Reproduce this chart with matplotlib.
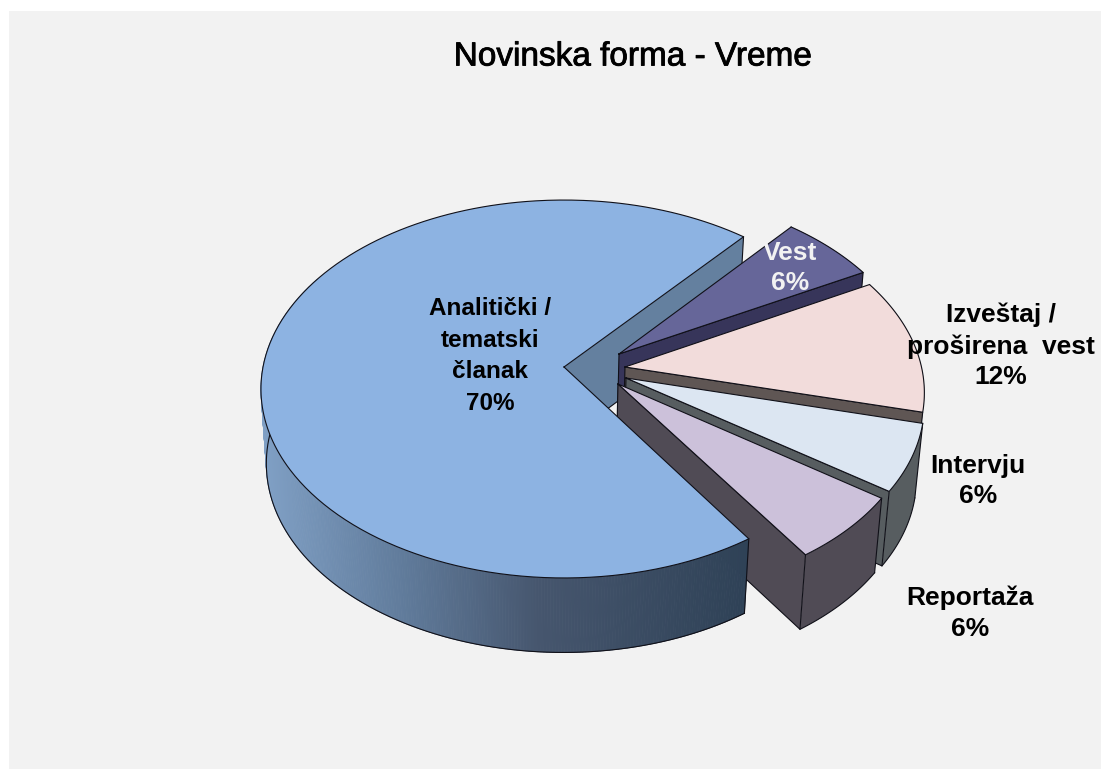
import numpy as np
import matplotlib
matplotlib.use('Agg')
import matplotlib.pyplot as plt
from matplotlib import patheffects

# Chart data (share of each form, rounded labels come from the chart itself)
categories = ['Analitički /\ntematski\nčlanak', 'Vest', 'Izveštaj /\nproširena  vest', 'Intervju', 'Reportaža']
values = [70.6, 5.9, 11.7, 5.9, 5.9]
percent_labels = ['70%', '6%', '12%', '6%', '6%']
title = 'Novinska forma - Vreme'

# Styling per slice
top_colors = ['#8DB3E2', '#666699', '#F2DCDB', '#DCE6F2', '#CCC1DA']
cut_colors = ['#64809F', '#37355A', '#5F5654', '#575D60', '#504B55']
wall_colors = [None, '#37355A', '#5F5654', '#575D60', '#504B55']
text_colors = ['black', '#F2F2F2', 'black', 'black', 'black']
apexes = [(564, 367), (619, 354), (625, 367), (626, 378), (618, 384)]
radii = [1.0, 0.99, 0.985, 0.975, 0.975]
label_xy = [(490, 356), (790, 268), (1001, 346), (978, 481), (970, 613)]
label_sizes = [17.5, 19, 19, 19, 19]
label_spacing = [1.48, 1.35, 1.35, 1.35, 1.35]

# Projection of the tilted disc onto the page, in pixels
K = 0.1164
SX, SY = 301.0, 186.4
OX, OY = 563.5, 367.0
DEPTH = 74.5
VX, SHRINK = 530.0, 0.98
START = 49.5
WALL_FROM = 150.0


def to_page(x, y):
    w = 1 + K * y
    return OX + SX * x / w, OY - SY * y / w


def from_page(px, py):
    u = (OY - py) / SY
    y = u / (1 - K * u)
    return (px - OX) / SX * (1 + K * y), y


def lower(px, py):
    return VX + SHRINK * (px - VX), py + DEPTH


def arc(apex, radius, a0, a1, n=120):
    cx, cy = from_page(*apex)
    t = np.radians(np.linspace(a0, a1, n))
    return to_page(cx + radius * np.cos(t), cy + radius * np.sin(t))


def wall_shade(x):
    stops = [262, 400, 540, 745]
    rgb = np.array([[128, 160, 197], [97, 124, 156], [70, 86, 110], [47, 66, 87]])
    return [np.interp(x, stops, rgb[:, i]) / 255 for i in range(3)]


fig = plt.figure(figsize=(11.09, 7.69), dpi=100, facecolor='white')
ax = fig.add_axes([0, 0, 1, 1])
ax.set_xlim(0, 1109)
ax.set_ylim(769, 0)
ax.axis('off')
ax.fill([9, 1101, 1101, 9], [11, 11, 769, 769], color='#F2F2F2', lw=0, zorder=0)

order = [1]


def shape(xs, ys, color):
    # each face goes on top of the ones drawn before it
    order[0] += 1
    ax.fill(xs, ys, color=color, lw=0, zorder=order[0])


def line(xs, ys):
    order[0] += 1
    ax.plot(xs, ys, color='#101018', lw=0.8, solid_joinstyle='round', zorder=order[0])


# Angles of each slice, clockwise from the start for the small ones
sweeps = np.array(values) / sum(values) * 360
edges = [START]
for sweep in sweeps[1:]:
    edges.append(edges[-1] - sweep)

# Large slice, cut face only: the small slices sit in front of it
apex = apexes[0]
xs, ys = arc(apex, radii[0], START, START + sweeps[0], 400)
bx0, by0 = lower(*apex)
bx1, by1 = lower(xs[0], ys[0])
shape([apex[0], xs[0], bx1, bx0], [apex[1], ys[0], by1, by0], cut_colors[0])
line([bx0, bx1, xs[0]], [by0, by1, ys[0]])

# Small slices, back to front
for i in range(1, len(values)):
    p = apexes[i]
    sx, sy = arc(p, radii[i], edges[i - 1], edges[i])
    lx, ly = lower(sx, sy)
    bx, by = lower(*p)
    shape(np.r_[sx, lx[::-1]], np.r_[sy, ly[::-1]], wall_colors[i])
    line(lx, ly)
    line([sx[0], lx[0]], [sy[0], ly[0]])
    shape([p[0], sx[-1], lx[-1], bx], [p[1], sy[-1], ly[-1], by], cut_colors[i])
    line([p[0], sx[-1], lx[-1], bx, p[0]], [p[1], sy[-1], ly[-1], by, p[1]])
    shape(np.r_[p[0], sx], np.r_[p[1], sy], top_colors[i])
    line(np.r_[p[0], sx, p[0]], np.r_[p[1], sy, p[1]])

# Large slice wall and top go last, they hide the cut of the front slice
wx, wy = arc(apex, radii[0], WALL_FROM, START + sweeps[0], 300)
lx, ly = lower(wx, wy)
for i in range(len(wx) - 1):
    order[0] += 1
    ax.fill([wx[i], wx[i + 1], lx[i + 1], lx[i]], [wy[i], wy[i + 1], ly[i + 1], ly[i]],
            color=wall_shade((wx[i] + wx[i + 1]) / 2), lw=0.6, zorder=order[0])
line(lx, ly)
line([wx[-1], lx[-1]], [wy[-1], ly[-1]])
shape(np.r_[apex[0], xs], np.r_[apex[1], ys], top_colors[0])
line(np.r_[apex[0], xs, apex[0]], np.r_[apex[1], ys, apex[1]])

# Labels
order[0] += 1
for i, name in enumerate(categories):
    ax.text(label_xy[i][0], label_xy[i][1], name + '\n' + percent_labels[i], ha='center', va='center',
            family='Liberation Sans', fontsize=label_sizes[i], fontweight='bold',
            color=text_colors[i], linespacing=label_spacing[i], zorder=order[0])

t = ax.text(633, 57, title, ha='center', va='center', family='Liberation Sans',
            fontsize=24, color='black', zorder=order[0])
t.set_path_effects([patheffects.withStroke(linewidth=0.6, foreground='black')])

fig.savefig('out.png', dpi=100, facecolor=fig.get_facecolor())
